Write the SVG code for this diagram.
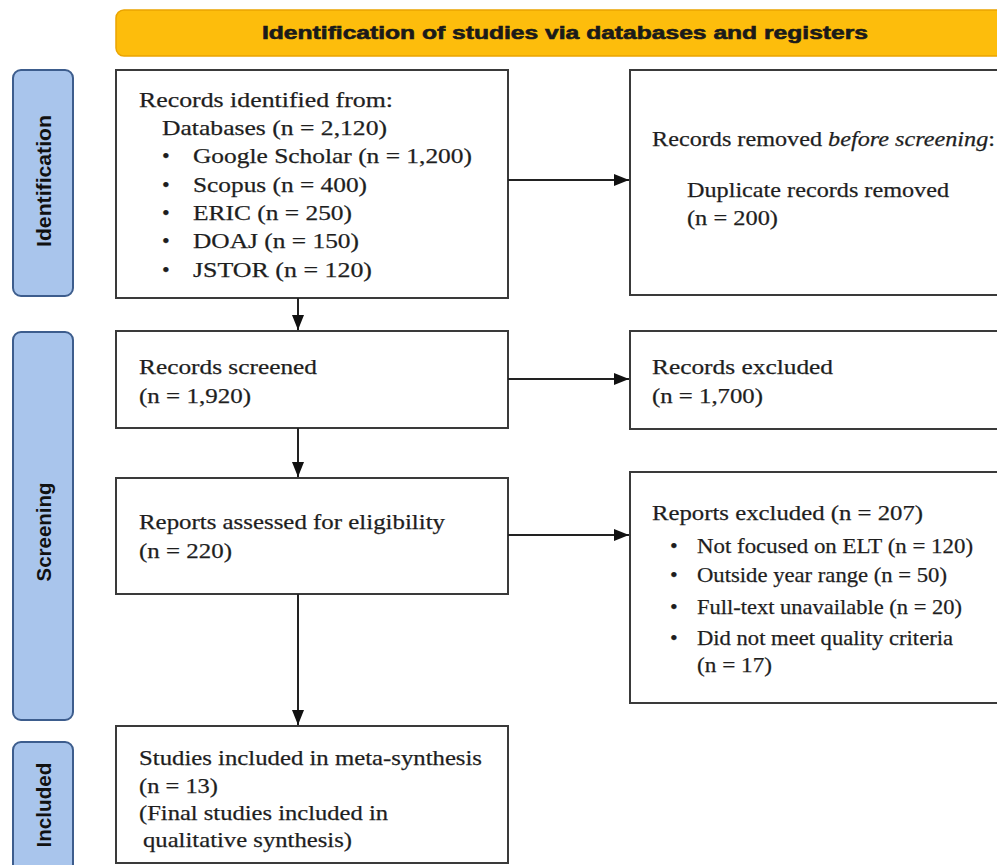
<svg xmlns="http://www.w3.org/2000/svg" width="997" height="865" viewBox="0 0 997 865">
<style>
.box{fill:#ffffff;stroke:#3a3a3a;stroke-width:2}
.lab{fill:#a9c5ec;stroke:#3d5d8d;stroke-width:2}
.labt{font-family:"Liberation Sans",Arial,sans-serif;font-weight:bold;font-size:21px;fill:#111;text-anchor:middle}
.t{font-family:"Liberation Serif","Times New Roman",serif;font-size:22px;fill:#1e1e1e;stroke:#1e1e1e;stroke-width:0.25}
.conn{stroke:#222;stroke-width:2;fill:none}
</style>
<defs>
<marker id="ah" markerUnits="userSpaceOnUse" markerWidth="15" markerHeight="12" refX="15" refY="6" orient="auto">
<path d="M0,0 L15,6 L0,12 z" fill="#111"/>
</marker>
</defs>
<rect width="997" height="865" fill="#ffffff"/>
<g id="banner">
<rect x="116" y="10" width="900" height="46" rx="8" fill="#fdbd0c" stroke="#eaa400" stroke-width="1.5"/>
<text x="262" y="39" font-family="'Liberation Sans',Arial,sans-serif" font-weight="bold" font-size="18" fill="#1a1a1a" stroke="#1a1a1a" stroke-width="0.6" textLength="606" lengthAdjust="spacingAndGlyphs">Identification of studies via databases and registers</text>
</g>
<g id="label-identification">
<rect class="lab" x="13" y="70" width="60" height="226" rx="8"/>
<text class="labt" transform="translate(51,181) rotate(-90)" textLength="132" lengthAdjust="spacingAndGlyphs">Identification</text>
</g>
<g id="label-screening">
<rect class="lab" x="13" y="332" width="60" height="388" rx="8"/>
<text class="labt" transform="translate(51,532) rotate(-90)" textLength="99" lengthAdjust="spacingAndGlyphs">Screening</text>
</g>
<g id="label-included">
<rect class="lab" x="13" y="742" width="60" height="130" rx="8"/>
<text class="labt" transform="translate(51,805) rotate(-90)" textLength="85" lengthAdjust="spacingAndGlyphs">Included</text>
</g>
<g id="records-identified">
<rect class="box" x="116" y="70" width="392" height="228"/>
<text class="t" x="139" y="107" textLength="254" lengthAdjust="spacingAndGlyphs">Records identified from:</text>
<text class="t" x="162" y="135" textLength="225" lengthAdjust="spacingAndGlyphs">Databases (n = 2,120)</text>
<text class="t" x="162" y="163">•</text>
<text class="t" x="193" y="163" textLength="279" lengthAdjust="spacingAndGlyphs">Google Scholar (n = 1,200)</text>
<text class="t" x="162" y="192">•</text>
<text class="t" x="193" y="192" textLength="174" lengthAdjust="spacingAndGlyphs">Scopus (n = 400)</text>
<text class="t" x="162" y="220">•</text>
<text class="t" x="193" y="220" textLength="159" lengthAdjust="spacingAndGlyphs">ERIC (n = 250)</text>
<text class="t" x="162" y="248">•</text>
<text class="t" x="193" y="248" textLength="166" lengthAdjust="spacingAndGlyphs">DOAJ (n = 150)</text>
<text class="t" x="162" y="277">•</text>
<text class="t" x="193" y="277" textLength="179" lengthAdjust="spacingAndGlyphs">JSTOR (n = 120)</text>
</g>
<g id="records-removed">
<rect class="box" x="630" y="70" width="400" height="225"/>
<text class="t" x="652" y="146" textLength="343" lengthAdjust="spacingAndGlyphs">Records removed <tspan font-style="italic">before screening</tspan>:</text>
<text class="t" x="687" y="197" textLength="262" lengthAdjust="spacingAndGlyphs">Duplicate records removed</text>
<text class="t" x="687" y="225" textLength="91" lengthAdjust="spacingAndGlyphs">(n = 200)</text>
</g>
<g id="records-screened">
<rect class="box" x="116" y="331" width="392" height="97"/>
<text class="t" x="139" y="374" textLength="178" lengthAdjust="spacingAndGlyphs">Records screened</text>
<text class="t" x="139" y="403" textLength="112" lengthAdjust="spacingAndGlyphs">(n = 1,920)</text>
</g>
<g id="records-excluded">
<rect class="box" x="630" y="331" width="400" height="98"/>
<text class="t" x="652" y="374" textLength="181" lengthAdjust="spacingAndGlyphs">Records excluded</text>
<text class="t" x="652" y="403" textLength="111" lengthAdjust="spacingAndGlyphs">(n = 1,700)</text>
</g>
<g id="reports-assessed">
<rect class="box" x="116" y="478" width="392" height="116"/>
<text class="t" x="139" y="529" textLength="306" lengthAdjust="spacingAndGlyphs">Reports assessed for eligibility</text>
<text class="t" x="139" y="558" textLength="93" lengthAdjust="spacingAndGlyphs">(n = 220)</text>
</g>
<g id="reports-excluded">
<rect class="box" x="630" y="472" width="400" height="231"/>
<text class="t" x="652" y="520" textLength="271" lengthAdjust="spacingAndGlyphs">Reports excluded (n = 207)</text>
<text class="t" x="670" y="553">•</text>
<text class="t" x="697" y="553" textLength="276" lengthAdjust="spacingAndGlyphs">Not focused on ELT (n = 120)</text>
<text class="t" x="670" y="582">•</text>
<text class="t" x="697" y="582" textLength="250" lengthAdjust="spacingAndGlyphs">Outside year range (n = 50)</text>
<text class="t" x="670" y="614">•</text>
<text class="t" x="697" y="614" textLength="265" lengthAdjust="spacingAndGlyphs">Full-text unavailable (n = 20)</text>
<text class="t" x="670" y="645">•</text>
<text class="t" x="697" y="645" textLength="256" lengthAdjust="spacingAndGlyphs">Did not meet quality criteria</text>
<text class="t" x="697" y="672" textLength="75" lengthAdjust="spacingAndGlyphs">(n = 17)</text>
</g>
<g id="studies-included">
<rect class="box" x="116" y="726" width="392" height="137"/>
<text class="t" x="139" y="765" textLength="343" lengthAdjust="spacingAndGlyphs">Studies included in meta-synthesis</text>
<text class="t" x="139" y="793" textLength="79" lengthAdjust="spacingAndGlyphs">(n = 13)</text>
<text class="t" x="139" y="820" textLength="249" lengthAdjust="spacingAndGlyphs">(Final studies included in</text>
<text class="t" x="143" y="847" textLength="209" lengthAdjust="spacingAndGlyphs">qualitative synthesis)</text>
</g>
<g id="connectors">
<line class="conn" x1="298" y1="298" x2="298" y2="330" marker-end="url(#ah)"/>
<line class="conn" x1="298" y1="428" x2="298" y2="477" marker-end="url(#ah)"/>
<line class="conn" x1="298" y1="594" x2="298" y2="725" marker-end="url(#ah)"/>
<line class="conn" x1="508" y1="180" x2="629" y2="180" marker-end="url(#ah)"/>
<line class="conn" x1="508" y1="379" x2="629" y2="379" marker-end="url(#ah)"/>
<line class="conn" x1="508" y1="535" x2="629" y2="535" marker-end="url(#ah)"/>
</g>
</svg>
